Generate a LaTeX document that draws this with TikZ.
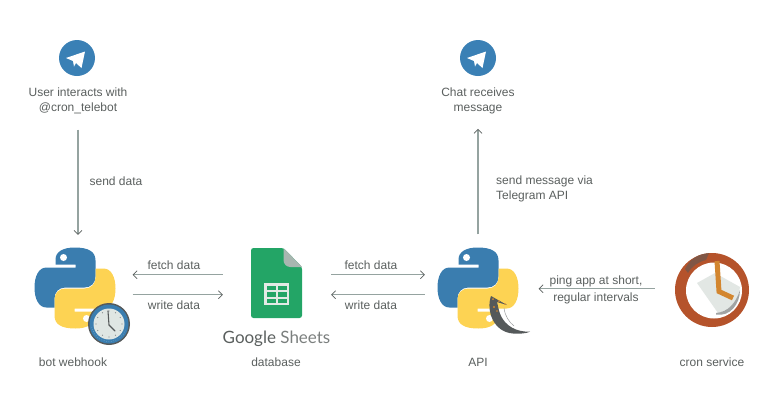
\documentclass[tikz,border=0pt]{standalone}
\usepackage{fontspec}
\setmainfont{Liberation Sans}
\newfontfamily\sheetsfont{Lato}
\usetikzlibrary{arrows.meta}

\definecolor{labelgray}{HTML}{5A5F5E}
\definecolor{arrowgray}{HTML}{95A3A0}
\definecolor{teleblue}{HTML}{3A80B5}
\definecolor{pyblue}{HTML}{3A7DAF}
\definecolor{pyyellow}{HTML}{FDD353}
\definecolor{sheetgreen}{HTML}{23A566}
\definecolor{sheetfold}{HTML}{A8B6B0}
\definecolor{sheetcell}{HTML}{E2EAE5}
\definecolor{cronred}{HTML}{B5532B}
\definecolor{cronhand}{HTML}{D3862F}
\definecolor{crongray}{HTML}{E2E7E4}
\definecolor{clockface}{HTML}{DFE6E3}
\definecolor{flaskgray}{HTML}{55595A}

\newcommand{\pyhalf}{(40,0) .. controls (54,0) and (61,4) .. (61,13) -- (61,29)
	.. controls (61,36) and (56,40) .. (50,40) -- (31,40)
	.. controls (24,40) and (20,45) .. (20,51) -- (20,60) -- (12,60)
	.. controls (4,60) and (0,51) .. (0,40) .. controls (0,29) and (4,20) .. (12,20)
	-- (41,20) -- (41,17) -- (21,17) -- (21,12) .. controls (21,4) and (29,0) .. (40,0) -- cycle}

\tikzset{
	pics/telegram/.style={code={
		\fill[teleblue] (0,0) circle (18);
		\fill[white] (-11,0) -- (8,-6.5) -- (4.5,10) -- (-1,5) -- (-3,8.5) -- (-4,3) -- cycle;
	}},
	pics/pylogo/.style={code={
		\begin{scope}[shift={(-40.5,-40.5)}]
			\fill[pyblue] \pyhalf;
			\fill[white] (29,10) circle (3.5);
			\begin{scope}[rotate around={180:(40.5,40.5)}]
				\fill[pyyellow] \pyhalf;
				\fill[white] (29,10) circle (3.5);
			\end{scope}
		\end{scope}
	}},
	pics/smallclock/.style={code={
		\fill[flaskgray] (0,0) circle (21);
		\fill[pyblue] (0,0) circle (19.5);
		\fill[clockface] (0,0) circle (15.5);
		\draw[white!70!pyblue, dotted] (170:17.5) arc (170:20:17.5);
		\foreach \a in {0,30,...,330}
			\fill[flaskgray!70] (\a:13) circle (0.6);
		\draw[flaskgray, line width=1.1pt, line cap=round] (-1,-13) -- (0,1) -- (6,7);
	}},
	pics/flask/.style={code={
		\fill[flaskgray] (13,8) .. controls (8,22) and (15,44) .. (35,45.5)
			.. controls (42,46) and (48,45.5) .. (52,43.7)
			.. controls (38,44) and (28,38) .. (23,28)
			.. controls (21,24) and (20,18) .. (19,14) -- (29,17) -- cycle;
		\draw[flaskgray!60, line width=0.5pt] (26,20) .. controls (27,28) and (31,34) .. (36,38);
		\fill[cronhand] (15,11) circle (1) (21,13) circle (1) (16,19) circle (1.2) (27,16) circle (0.8) (19,23) circle (0.8);
	}},
	pics/sheetsicon/.style={code={
		\fill[sheetgreen, rounded corners=2.5pt] (-25.5,-35) -- (7,-35) -- (25.5,-16) -- (25.5,35) -- (-25.5,35) -- cycle;
		\fill[sheetfold] (7,-35) -- (25.5,-16) -- (14,-16) .. controls (10,-16) and (7,-19) .. (7,-23) -- cycle;
		\fill[sheetcell] (-12.5,0) rectangle (12.5,22);
		\foreach \x in {-10,1.2}
			\foreach \y in {2.5,9,15.5}
				\fill[sheetgreen] (\x,\y) rectangle ++(9,4.5);
	}},
	pics/cronclock/.style={code={
		\fill[cronred] (0,0) circle (37);
		\fill[white] (2,0.5) circle (28);
		\begin{scope}
			\clip (0,0) circle (37);
			\fill[cronred!45!flaskgray] (-27,-21) .. controls (-22,-31) and (-14,-36) .. (-3,-37)
				-- (-6,-30) .. controls (-14,-28) and (-20,-24) .. (-24,-17) -- cycle;
		\end{scope}
		\fill[crongray] (-15,-7) -- (3,-17) -- (28,-3) -- (26,7) .. controls (21,16) and (14,21) .. (6,23) -- cycle;
		\fill[flaskgray!55] (4,23) .. controls (16,22) and (24,13) .. (28,0)
			.. controls (28,14) and (18,27) .. (4,24.5) -- cycle;
		\draw[cronhand, line width=5pt, line join=miter] (5,-29) -- (7,1.5) -- (21,8);
	}}
}

\begin{document}
\begin{tikzpicture}[
	x=1pt, y=-1pt,
	every node/.style={
		text=labelgray,
		font=\fontsize{12}{15}\selectfont,
		align=center,
		inner sep=0pt
	},
	icon/.style={minimum width=#1, minimum height=#1},
	flow/.style={
		draw=arrowgray,
		line width=1.5pt,
		-{Straight Barb[length=4pt, width=8pt, line width=0.7pt, color=labelgray]}
	}
]
\useasboundingbox (0,0) rectangle (769,408);

% icons
\node[icon=36] (user) at (77,58) {};
\node[icon=36] (chat) at (478,58) {};
\node[icon=81] (bot) at (75,288) {};
\node[minimum width=51, minimum height=70] (sheets) at (276.5,283) {};
\node[icon=81] (api) at (478,288) {};
\node[icon=74] (cron) at (712,290) {};

\pic at (user) {telegram};
\pic at (chat) {telegram};
\pic at (bot) {pylogo};
\pic at (109,324) {smallclock};
\pic at (sheets) {sheetsicon};
\pic at (api) {pylogo};
\pic at (api) {flask};
\pic at (cron) {cronclock};

% texts
\node (userlabel) at (78,100.5) {User interacts with\\@cron\_telebot};
\node (chatlabel) at (478,100.5) {Chat receives\\message};
\node (brand) at (276.5,339) {\sheetsfont\fontsize{17}{17}\selectfont Google \textcolor{labelgray!80}{Sheets}};
\node (botlabel) at (73,362.5) {bot webhook};
\node (dblabel) at (276,362.5) {database};
\node (apilabel) at (478,362.5) {API};
\node (cronlabel) at (712,362.5) {cron service};

% arrows
\draw[flow] ([yshift=-16]userlabel.south) -- ([shift={(3,-12.5)}]bot.north);
\draw[flow] ([shift={(0,-13)}]api.north) -- ([yshift=-15]chatlabel.south);
\draw[flow] ([shift={(-28,-8.3)}]sheets.west) -- ([shift={(17,-13.3)}]bot.east);
\draw[flow] ([shift={(17,6.7)}]bot.east) -- ([shift={(-28,11.7)}]sheets.west);
\draw[flow] ([shift={(29,-8.3)}]sheets.east) -- ([shift={(-12.5,-13.3)}]api.west);
\draw[flow] ([shift={(-12.5,6.7)}]api.west) -- ([shift={(29,11.7)}]sheets.east);
\draw[flow] ([shift={(-20,-1.3)}]cron.west) -- ([shift={(20,0.7)}]api.east);

\node at (116,181.5) {send data};
\node at (174,265.5) {fetch data};
\node at (174,305.5) {write data};
\node at (371,265.5) {fetch data};
\node at (371,305.5) {write data};
\node[align=left, anchor=west] at (496,189) {send message via\\Telegram API};
\node at (596,290) {ping app at short,\\[2pt]regular intervals};
\end{tikzpicture}
\end{document}
